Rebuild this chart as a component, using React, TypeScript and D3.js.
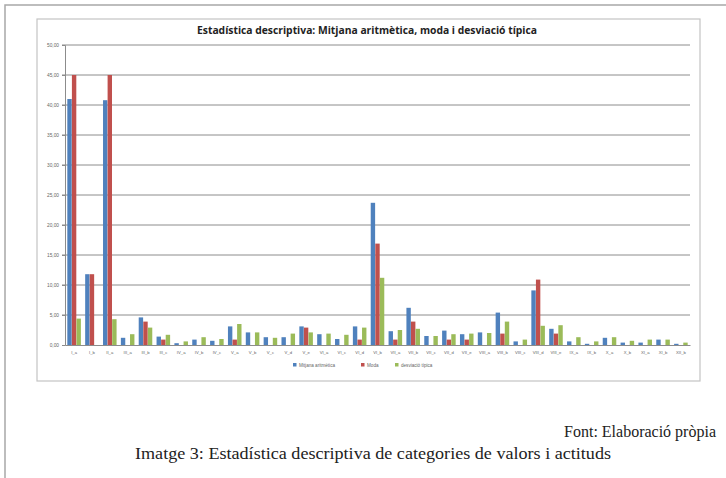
import { useEffect, useRef } from 'react';
import * as d3 from 'd3';

const categories = [
    'I_a', 'I_b', 'II_a', 'III_a', 'III_b', 'III_c', 'IV_a', 'IV_b', 'IV_c', 'V_a',
    'V_b', 'V_c', 'V_d', 'V_e', 'VI_a', 'VI_c', 'VI_d', 'VI_b', 'VII_a', 'VII_b',
    'VII_c', 'VII_d', 'VII_e', 'VIII_a', 'VIII_b', 'VIII_c', 'VIII_d', 'VIII_e', 'IX_a', 'IX_b',
    'X_a', 'X_b', 'XI_a', 'XI_b', 'XII_b',
];
const mitjana = [
    41.0, 11.8, 40.8, 1.2, 4.6, 1.4, 0.3, 0.9, 0.7, 3.1,
    2.1, 1.3, 1.3, 3.1, 1.8, 1.0, 3.1, 23.7, 2.3, 6.2,
    1.5, 2.4, 1.8, 2.1, 5.4, 0.6, 9.1, 2.7, 0.6, 0.2,
    1.2, 0.4, 0.4, 0.9, 0.2,
];
const moda = [
    45, 11.8, 45, 0, 3.9, 0.9, 0, 0, 0, 0.9,
    0, 0, 0, 2.9, 0, 0, 0.9, 16.9, 0.9, 3.9,
    0, 0.9, 0.9, 0, 1.9, 0, 10.9, 1.9, 0, 0,
    0, 0, 0, 0, 0,
];
const desviacio = [
    4.4, 0, 4.3, 1.8, 2.9, 1.7, 0.6, 1.3, 1.0, 3.5,
    2.1, 1.2, 1.9, 2.1, 1.9, 1.7, 2.9, 11.2, 2.5, 2.7,
    1.5, 1.8, 1.9, 2.0, 3.9, 0.9, 3.2, 3.3, 1.3, 0.6,
    1.3, 0.7, 0.9, 0.9, 0.4,
];
const seriesNames = ['Mitjana aritmètica', 'Moda', 'desviació típica'];
const seriesColors = ['#4f81bd', '#c0504d', '#9bbb59'];
const yTicks = [0, 5, 10, 15, 20, 25, 30, 35, 40, 45, 50];

export default function App() {
    const ref = useRef<SVGSVGElement | null>(null);

    useEffect(() => {
        if (!ref.current) return;
        const svg = d3.select(ref.current);
        svg.selectAll('*').remove();

        const W = 726, H = 478;
        svg.attr('width', W).attr('height', H).attr('viewBox', `0 0 ${W} ${H}`);
        svg.append('rect').attr('width', W).attr('height', H).attr('fill', '#fff');

        // page frame (scanned document)
        svg.append('path').attr('d', `M5,${H} V5 H${W}`).attr('fill', 'none').attr('stroke', '#a8a8a8').attr('stroke-width', 1.5);

        // chart box
        svg.append('rect')
            .attr('x', 37).attr('y', 19).attr('width', 663).attr('height', 362)
            .attr('fill', '#fff').attr('stroke', '#c4c4c4').attr('stroke-width', 1.2);

        const series = [mitjana, moda, desviacio];
        const left = 65, right = 690, top = 45, bottom = 345;

        const x = d3.scaleBand().domain(categories).range([left, right]).paddingInner(0.22).paddingOuter(0.12);
        const xs = d3.scaleBand().domain(d3.range(3).map(String)).range([0, x.bandwidth()]).padding(0.04);
        const y = d3.scaleLinear().domain([0, 50]).range([bottom, top]);

        // title
        svg.append('text')
            .attr('x', 367).attr('y', 34)
            .attr('text-anchor', 'middle')
            .attr('font-family', '"Open Sans", "Liberation Sans", sans-serif')
            .attr('font-weight', 'bold').attr('font-size', 10.5).attr('fill', '#222')
            .attr('textLength', 340).attr('lengthAdjust', 'spacingAndGlyphs')
            .text('Estadística descriptiva: Mitjana aritmètica, moda i desviació típica');

        // grid
        svg.append('g').selectAll('line')
            .data(yTicks.filter(t => t > 0))
            .join('line')
            .attr('x1', left - 3).attr('x2', right)
            .attr('y1', d => y(d)).attr('y2', d => y(d))
            .attr('stroke', '#8c8c8c').attr('stroke-width', 1);

        // axes
        const yAxis = svg.append('g').attr('transform', `translate(${left},0)`)
            .call(d3.axisLeft(y).tickValues(yTicks).tickSize(3).tickFormat(d => d3.format('.2f')(+d).replace('.', ',')));
        yAxis.select('.domain').attr('stroke', '#8c8c8c');
        yAxis.selectAll('.tick line').attr('stroke', '#8c8c8c');
        yAxis.selectAll('text').attr('font-size', 4.8).attr('fill', '#666').attr('font-family', '"Liberation Sans", sans-serif').attr('x', -6);

        const xAxis = svg.append('g').attr('transform', `translate(0,${bottom})`)
            .call(d3.axisBottom(x).tickSize(0).tickPadding(6));
        xAxis.select('.domain').attr('stroke', '#8c8c8c');
        xAxis.selectAll('text').attr('font-size', 4.2).attr('fill', '#666').attr('font-family', '"Liberation Sans", sans-serif');

        // bars
        series.forEach((vals, si) => {
            svg.append('g').selectAll('rect')
                .data(vals)
                .join('rect')
                .attr('x', (_, i) => x(categories[i])! + xs(String(si))!)
                .attr('width', xs.bandwidth())
                .attr('y', d => y(d))
                .attr('height', d => bottom - y(d))
                .attr('fill', seriesColors[si]);
        });

        // legend
        const legendX = [293, 361, 395];
        const lg = svg.append('g').attr('transform', 'translate(0,366)');
        seriesNames.forEach((name, i) => {
            lg.append('rect').attr('x', legendX[i]).attr('y', -3).attr('width', 3.5).attr('height', 3.5).attr('fill', seriesColors[i]);
            lg.append('text').attr('x', legendX[i] + 6).attr('y', 1)
                .attr('font-size', 4.6).attr('fill', '#666').attr('font-family', '"Liberation Sans", sans-serif')
                .text(name);
        });

        // captions
        svg.append('text')
            .attr('x', 716).attr('y', 437).attr('text-anchor', 'end')
            .attr('font-family', '"Liberation Serif", serif').attr('font-size', 16).attr('fill', '#222')
            .text('Font: Elaboració pròpia');
        svg.append('text')
            .attr('x', 135).attr('y', 459)
            .attr('font-family', '"Liberation Serif", serif').attr('font-size', 16).attr('fill', '#222')
            .attr('textLength', 476).attr('lengthAdjust', 'spacingAndGlyphs')
            .text('Imatge 3: Estadística descriptiva de categories de valors i actituds');
    }, []);

    return (
        <div style={{ position: 'fixed', left: 0, top: 0 }}>
            <svg ref={ref} style={{ display: 'block' }} />
        </div>
    );
}
